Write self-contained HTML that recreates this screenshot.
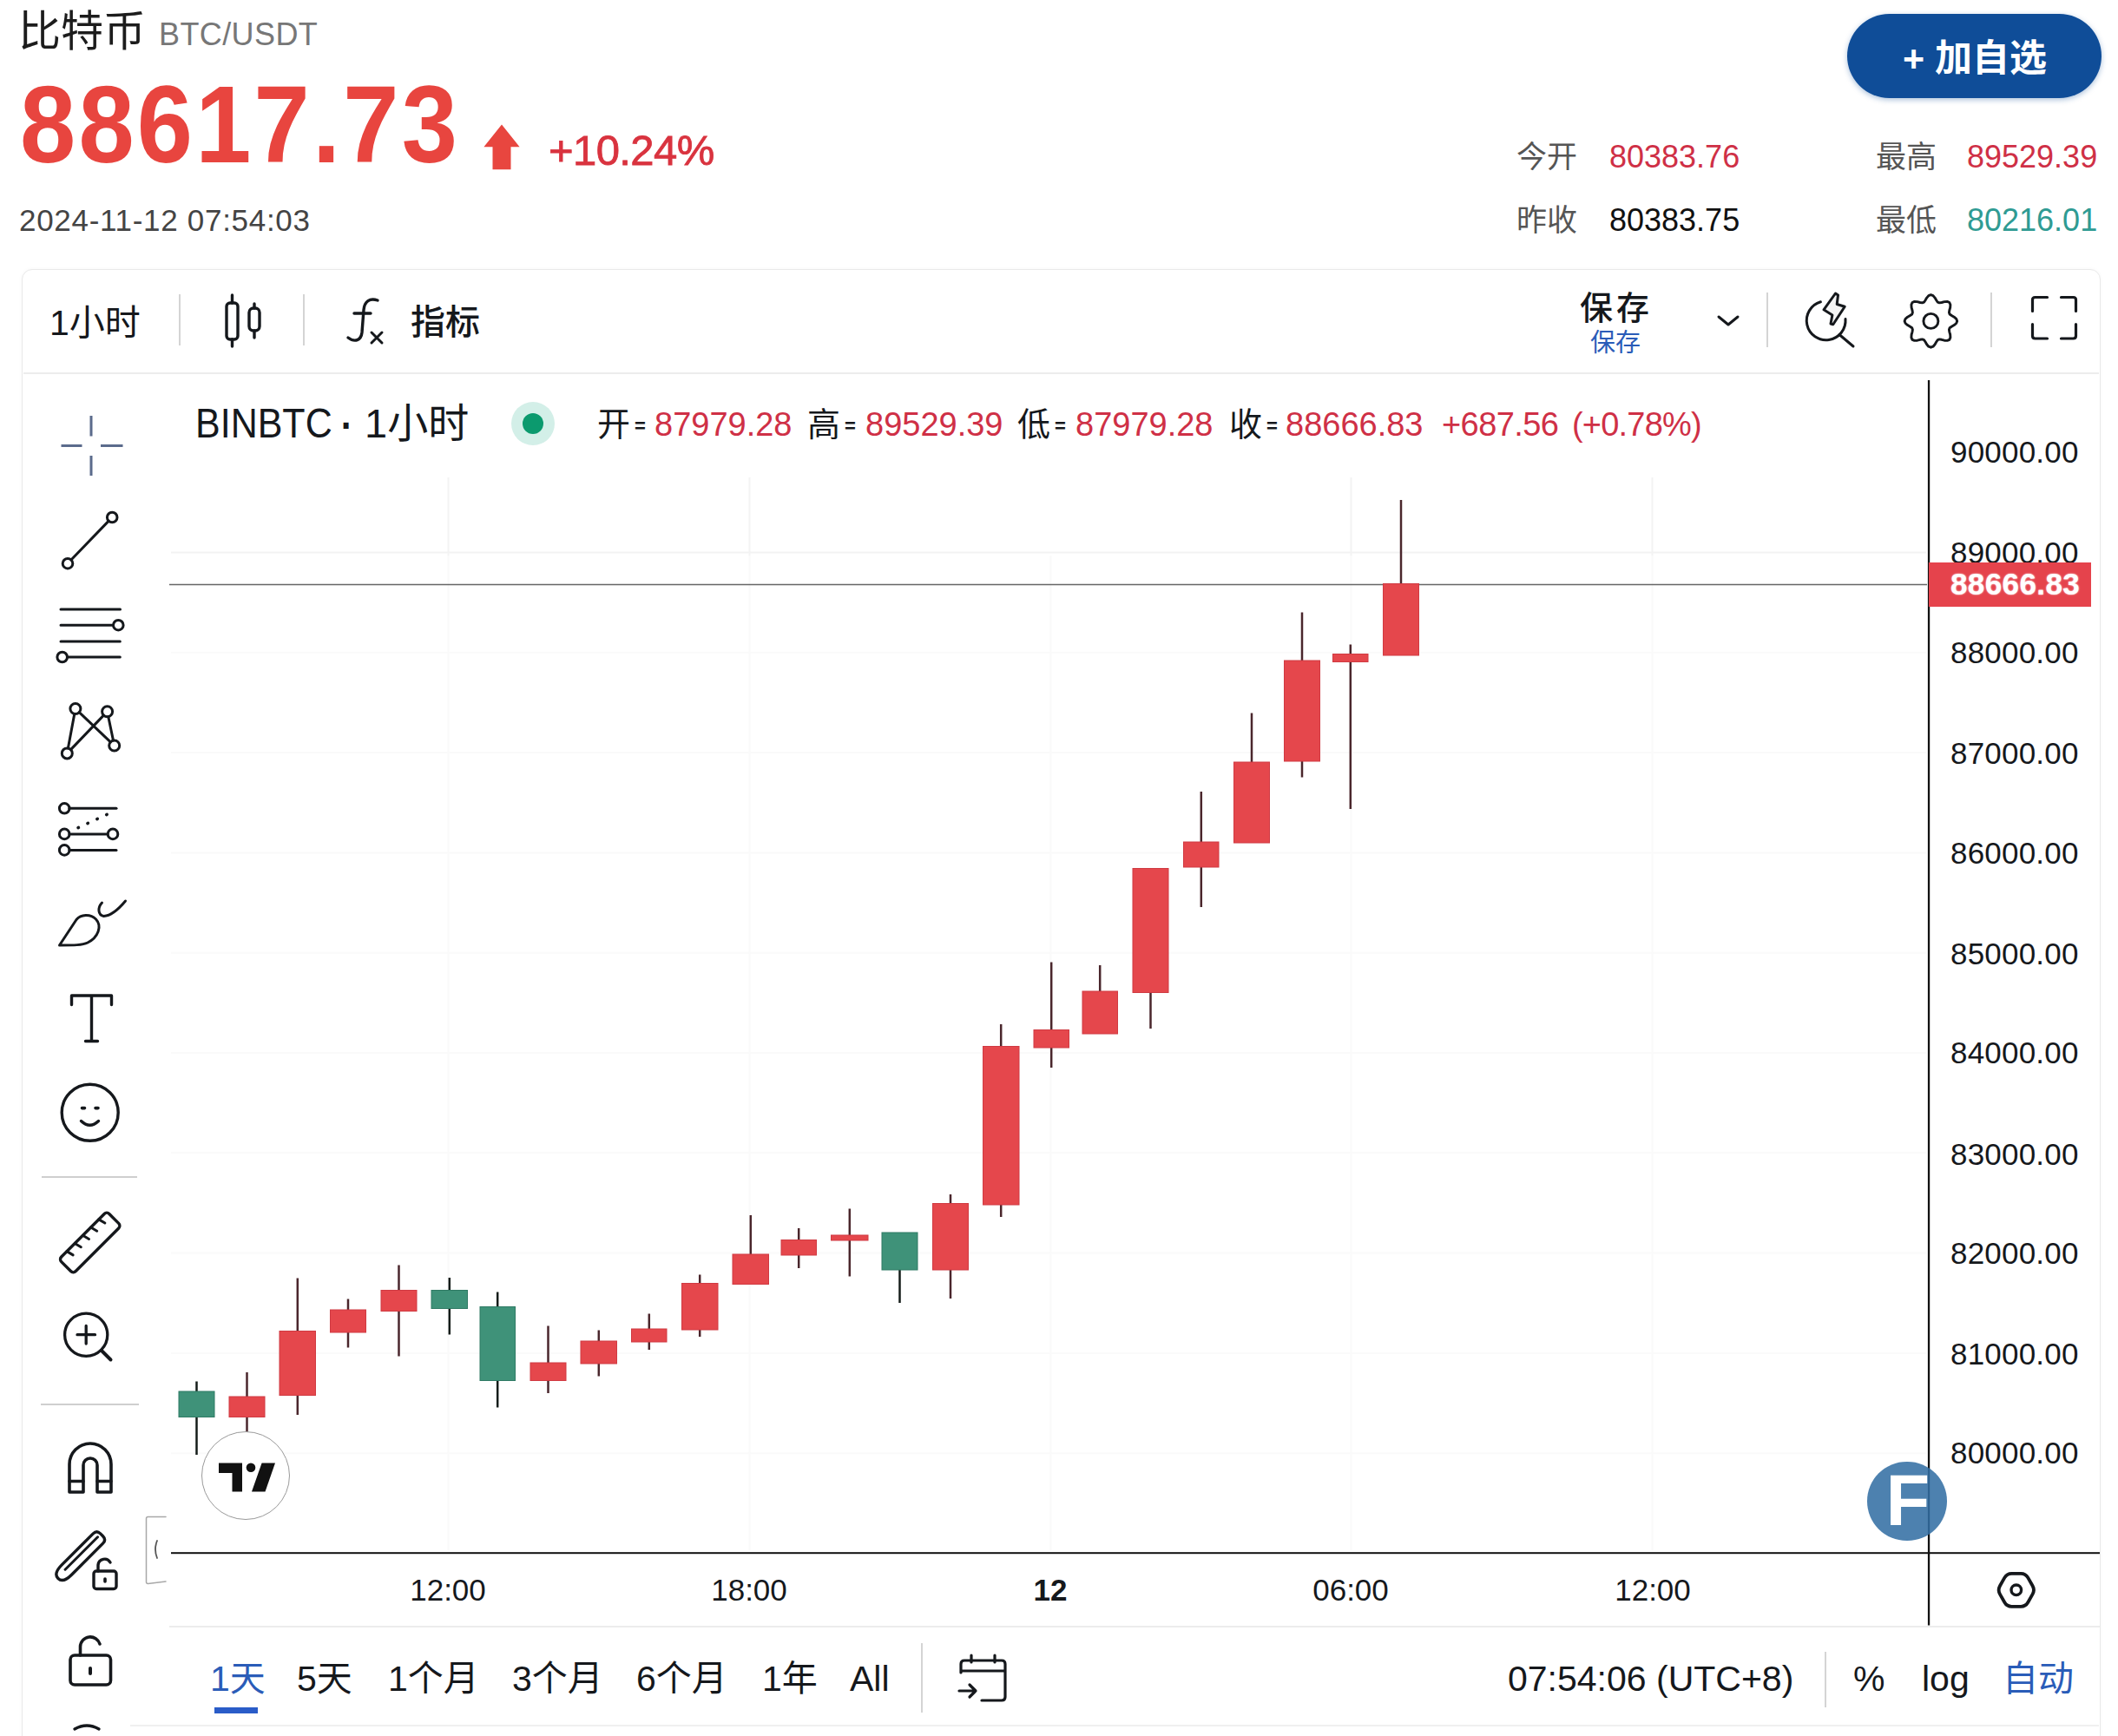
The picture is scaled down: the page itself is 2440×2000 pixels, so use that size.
<!DOCTYPE html>
<html lang="zh-CN"><head><meta charset="utf-8"><title>比特币 BTC/USDT</title>
<style>
*{margin:0;padding:0;box-sizing:border-box}
html,body{width:2440px;height:2000px;overflow:hidden;background:#fff}
body{position:relative;font-family:"Liberation Sans","Noto Sans CJK SC",sans-serif;color:#111}
.a{position:absolute;white-space:nowrap;line-height:1}
.red{color:#e8453f}.crim{color:#cf3046}.teal{color:#2f9b93}.gray{color:#6f6f6f}.blue{color:#2a5cb8}
#card{position:absolute;left:25px;top:310px;width:2395px;height:1720px;border:1.5px solid #e9e9e9;border-radius:12px;background:#fff;box-shadow:0 0 5px rgba(0,0,0,.03)}
.vd{position:absolute;width:2px;background:#d4d4d4}
.hd{position:absolute;height:2px;background:#ececec}
.pl{position:absolute;left:2247px;font-size:35px;line-height:1;color:#15181c;white-space:nowrap;letter-spacing:.2px}
.tl{position:absolute;top:1814px;font-size:35px;line-height:1;color:#15181c;white-space:nowrap;transform:translateX(-50%)}
.bb{position:absolute;top:1914px;font-size:41px;line-height:1;white-space:nowrap;color:#15181c}
.bb.blue{color:#2a5cb8}
.lg{position:absolute;top:470px;font-size:38px;line-height:1;white-space:nowrap}
.eq{font-size:22px;position:relative;top:-4px;left:5px;font-weight:700}
svg{position:absolute;left:0;top:0;overflow:visible}
</style></head><body>

<!-- header -->
<div class="a" style="left:21px;top:12px;font-size:49px;font-weight:400;color:#1c1c1c;letter-spacing:0px">比特币</div>
<div class="a gray" style="left:183px;top:22px;font-size:36px;letter-spacing:.4px;color:#777">BTC/USDT</div>
<div class="a red" style="left:22.7px;top:80.4px;font-size:119px;font-weight:700;letter-spacing:3.3px;transform:scale(.97,1.055);transform-origin:0 0">88617.73</div>
<div class="a red" style="left:632px;top:149px;font-size:49px;letter-spacing:-.6px;color:#d9333f;-webkit-text-stroke:.8px #d9333f">+10.24%</div>
<div class="a gray" style="left:22px;top:236px;font-size:35px;letter-spacing:.7px;color:#444">2024-11-12 07:54:03</div>

<div class="a" style="left:2128px;top:16px;width:293px;height:97px;border-radius:49px;background:#0f4d98;box-shadow:0 2px 6px rgba(15,77,152,.35)"></div>
<div class="a" style="left:2192px;top:46px;font-size:43px;font-weight:700;color:#fff;letter-spacing:0">+ 加自选</div>

<div class="a gray" style="left:1747px;top:163px;font-size:35px;color:#555">今开</div>
<div class="a crim" style="left:1854px;top:163px;font-size:36px">80383.76</div>
<div class="a gray" style="left:2161px;top:163px;font-size:35px;color:#555">最高</div>
<div class="a crim" style="left:2266px;top:163px;font-size:36px">89529.39</div>
<div class="a gray" style="left:1747px;top:236px;font-size:35px;color:#555">昨收</div>
<div class="a" style="left:1854px;top:236px;font-size:36px;color:#111">80383.75</div>
<div class="a gray" style="left:2161px;top:236px;font-size:35px;color:#555">最低</div>
<div class="a teal" style="left:2266px;top:236px;font-size:36px">80216.01</div>

<!-- card -->
<div id="card"></div>
<div class="hd" style="left:27px;top:429px;width:2391px"></div>

<!-- top toolbar -->
<div class="a" style="left:57px;top:352px;font-size:41px;color:#15181c">1小时</div>
<div class="vd" style="left:206px;top:339px;height:59px"></div>
<div class="vd" style="left:349px;top:339px;height:59px"></div>
<div class="a" style="left:473px;top:351px;font-size:40px;color:#15181c;font-weight:500">指标</div>
<div class="a" style="left:1820px;top:336px;font-size:38px;letter-spacing:4px;color:#15181c;font-weight:500">保存</div>
<div class="a blue" style="left:1832px;top:381px;font-size:29px">保存</div>
<div class="vd" style="left:2035px;top:337px;height:63px"></div>
<div class="vd" style="left:2293px;top:337px;height:63px"></div>

<!-- legend -->
<div class="lg" style="left:225px;top:463px;font-size:43px;color:#15181c;transform:scaleY(1.13);transform-origin:0 0">BINBTC <b style="font-size:42px;line-height:0;position:relative;top:3px;left:-2px">·</b></div>
<div class="lg" style="left:420px;top:464px;font-size:47px;color:#15181c">1小时</div>
<div class="a" style="left:589px;top:463px;width:50px;height:50px;border-radius:25px;background:#d3efe8"></div>
<div class="a" style="left:602px;top:476px;width:24px;height:24px;border-radius:12px;background:#0b9a6e"></div>
<div class="lg" style="left:688px;color:#15181c">开<span class="eq">=</span></div><div class="lg crim" style="left:754px">87979.28</div>
<div class="lg" style="left:930px;color:#15181c">高<span class="eq">=</span></div><div class="lg crim" style="left:997px">89529.39</div>
<div class="lg" style="left:1172px;color:#15181c">低<span class="eq">=</span></div><div class="lg crim" style="left:1239px">87979.28</div>
<div class="lg" style="left:1416px;color:#15181c">收<span class="eq">=</span></div><div class="lg crim" style="left:1481px">88666.83</div>
<div class="lg crim" style="left:1661px;letter-spacing:-.6px">+687.56</div>
<div class="lg crim" style="left:1811px;letter-spacing:-.8px">(+0.78%)</div>

<!-- chart -->
<svg width="2440" height="2000" viewBox="0 0 2440 2000">
<g stroke="#f3f3f3" stroke-width="2">
<line x1="516.5" y1="550" x2="516.5" y2="640"/><line x1="863.5" y1="550" x2="863.5" y2="640"/><line x1="1556.5" y1="550" x2="1556.5" y2="640"/><line x1="1903.5" y1="550" x2="1903.5" y2="640"/>
<line x1="197" y1="636.5" x2="2219" y2="636.5"/>
</g>
<g stroke="#fafafa" stroke-width="2"><line x1="197" y1="751.8" x2="2219" y2="751.8"/><line x1="197" y1="867.1" x2="2219" y2="867.1"/><line x1="197" y1="982.4" x2="2219" y2="982.4"/><line x1="197" y1="1097.7" x2="2219" y2="1097.7"/><line x1="197" y1="1213.0" x2="2219" y2="1213.0"/><line x1="197" y1="1328.3" x2="2219" y2="1328.3"/><line x1="197" y1="1443.6" x2="2219" y2="1443.6"/><line x1="197" y1="1558.9" x2="2219" y2="1558.9"/><line x1="197" y1="1674.2" x2="2219" y2="1674.2"/><line x1="516.5" y1="640" x2="516.5" y2="1786"/><line x1="863.5" y1="640" x2="863.5" y2="1786"/><line x1="1210.5" y1="640" x2="1210.5" y2="1786"/><line x1="1556.5" y1="640" x2="1556.5" y2="1786"/><line x1="1903.5" y1="640" x2="1903.5" y2="1786"/></g>
<line x1="195" y1="673.5" x2="2220" y2="673.5" stroke="#666" stroke-width="1.3"/>
<line x1="226.5" y1="1591.5" x2="226.5" y2="1676" stroke="#141c19" stroke-width="2.5"/>
<rect x="206" y="1603" width="41" height="29.5" fill="#3f9279" stroke="#2f7a64" stroke-width="1"/>
<line x1="284.5" y1="1581" x2="284.5" y2="1650" stroke="#4a262c" stroke-width="2.5"/>
<rect x="264" y="1609" width="41" height="23.5" fill="#e5474c" stroke="#d03a42" stroke-width="1"/>
<line x1="342.8" y1="1472.5" x2="342.8" y2="1630" stroke="#4a262c" stroke-width="2.5"/>
<rect x="322" y="1533.5" width="41.5" height="74.0" fill="#e5474c" stroke="#d03a42" stroke-width="1"/>
<line x1="401.0" y1="1496.5" x2="401.0" y2="1552.5" stroke="#4a262c" stroke-width="2.5"/>
<rect x="380.5" y="1509" width="41.0" height="26" fill="#e5474c" stroke="#d03a42" stroke-width="1"/>
<line x1="459.5" y1="1457.5" x2="459.5" y2="1562.5" stroke="#4a262c" stroke-width="2.5"/>
<rect x="439" y="1486.5" width="41" height="24.0" fill="#e5474c" stroke="#d03a42" stroke-width="1"/>
<line x1="517.8" y1="1472" x2="517.8" y2="1537.5" stroke="#141c19" stroke-width="2.5"/>
<rect x="497" y="1486.5" width="41.5" height="21.0" fill="#3f9279" stroke="#2f7a64" stroke-width="1"/>
<line x1="573.2" y1="1488.5" x2="573.2" y2="1621.5" stroke="#141c19" stroke-width="2.5"/>
<rect x="553" y="1505.5" width="40.5" height="85.0" fill="#3f9279" stroke="#2f7a64" stroke-width="1"/>
<line x1="631.5" y1="1527.5" x2="631.5" y2="1605" stroke="#4a262c" stroke-width="2.5"/>
<rect x="611" y="1570" width="41" height="20.5" fill="#e5474c" stroke="#d03a42" stroke-width="1"/>
<line x1="689.8" y1="1532.5" x2="689.8" y2="1585.5" stroke="#4a262c" stroke-width="2.5"/>
<rect x="669" y="1545" width="41.5" height="26" fill="#e5474c" stroke="#d03a42" stroke-width="1"/>
<line x1="747.8" y1="1513.5" x2="747.8" y2="1555" stroke="#4a262c" stroke-width="2.5"/>
<rect x="727.5" y="1531" width="40.5" height="15" fill="#e5474c" stroke="#d03a42" stroke-width="1"/>
<line x1="806.2" y1="1468.5" x2="806.2" y2="1540" stroke="#4a262c" stroke-width="2.5"/>
<rect x="785.5" y="1478.5" width="41.5" height="53.5" fill="#e5474c" stroke="#d03a42" stroke-width="1"/>
<line x1="864.8" y1="1400" x2="864.8" y2="1480" stroke="#4a262c" stroke-width="2.5"/>
<rect x="844" y="1445" width="41.5" height="34.5" fill="#e5474c" stroke="#d03a42" stroke-width="1"/>
<line x1="920.2" y1="1415" x2="920.2" y2="1461" stroke="#4a262c" stroke-width="2.5"/>
<rect x="900" y="1428.5" width="40.5" height="17.5" fill="#e5474c" stroke="#d03a42" stroke-width="1"/>
<line x1="978.8" y1="1392.5" x2="978.8" y2="1470.5" stroke="#4a262c" stroke-width="2.5"/>
<rect x="957.5" y="1423" width="42.5" height="6" fill="#e5474c" stroke="#d03a42" stroke-width="1"/>
<line x1="1036.5" y1="1420" x2="1036.5" y2="1501" stroke="#141c19" stroke-width="2.5"/>
<rect x="1016" y="1420" width="41" height="43" fill="#3f9279" stroke="#2f7a64" stroke-width="1"/>
<line x1="1095.0" y1="1376" x2="1095.0" y2="1496" stroke="#4a262c" stroke-width="2.5"/>
<rect x="1074.5" y="1386.5" width="41.0" height="76.5" fill="#e5474c" stroke="#d03a42" stroke-width="1"/>
<line x1="1153.2" y1="1180" x2="1153.2" y2="1402" stroke="#4a262c" stroke-width="2.5"/>
<rect x="1132.5" y="1205.5" width="41.5" height="182.5" fill="#e5474c" stroke="#d03a42" stroke-width="1"/>
<line x1="1211.2" y1="1108.5" x2="1211.2" y2="1230" stroke="#4a262c" stroke-width="2.5"/>
<rect x="1191" y="1186.5" width="40.5" height="20.5" fill="#e5474c" stroke="#d03a42" stroke-width="1"/>
<line x1="1267.2" y1="1112" x2="1267.2" y2="1191" stroke="#4a262c" stroke-width="2.5"/>
<rect x="1247" y="1142" width="40.5" height="49" fill="#e5474c" stroke="#d03a42" stroke-width="1"/>
<line x1="1325.5" y1="1000.5" x2="1325.5" y2="1185" stroke="#4a262c" stroke-width="2.5"/>
<rect x="1305" y="1000.5" width="41" height="143.0" fill="#e5474c" stroke="#d03a42" stroke-width="1"/>
<line x1="1383.8" y1="912" x2="1383.8" y2="1045" stroke="#4a262c" stroke-width="2.5"/>
<rect x="1363.5" y="970" width="40.5" height="29" fill="#e5474c" stroke="#d03a42" stroke-width="1"/>
<line x1="1442.0" y1="821.5" x2="1442.0" y2="971" stroke="#4a262c" stroke-width="2.5"/>
<rect x="1421.5" y="878" width="41.0" height="93" fill="#e5474c" stroke="#d03a42" stroke-width="1"/>
<line x1="1500.0" y1="705.5" x2="1500.0" y2="895.5" stroke="#4a262c" stroke-width="2.5"/>
<rect x="1479.5" y="761" width="41.0" height="116" fill="#e5474c" stroke="#d03a42" stroke-width="1"/>
<line x1="1555.8" y1="742.5" x2="1555.8" y2="932" stroke="#4a262c" stroke-width="2.5"/>
<rect x="1535.5" y="753.5" width="40.5" height="9.0" fill="#e5474c" stroke="#d03a42" stroke-width="1"/>
<line x1="1614.0" y1="576" x2="1614.0" y2="672.5" stroke="#4a262c" stroke-width="2.5"/>
<rect x="1593.5" y="672.5" width="41.0" height="82.5" fill="#e5474c" stroke="#d03a42" stroke-width="1"/>

<rect x="2220.9" y="438" width="2.3" height="1434.5" fill="#111"/>
<rect x="197" y="1788.2" width="2222" height="2" fill="#111"/>
<rect x="2222" y="648" width="187" height="51" fill="#e5434c"/>
</svg>

<!-- price labels -->
<div class="pl" style="top:503px">90000.00</div>
<div class="pl" style="top:619px">89000.00</div>
<div class="pl" style="top:734px">88000.00</div>
<div class="pl" style="top:850px">87000.00</div>
<div class="pl" style="top:965px">86000.00</div>
<div class="pl" style="top:1081px">85000.00</div>
<div class="pl" style="top:1195px">84000.00</div>
<div class="pl" style="top:1312px">83000.00</div>
<div class="pl" style="top:1426px">82000.00</div>
<div class="pl" style="top:1542px">81000.00</div>
<div class="pl" style="top:1656px">80000.00</div>
<svg width="2440" height="2000" viewBox="0 0 2440 2000"><rect x="2222" y="648" width="187" height="51" fill="#e5434c"/></svg>
<div class="pl" style="top:655px;color:#fff;font-weight:700;left:2247px;font-size:35px;letter-spacing:.4px;text-shadow:0 0 2px #fff">88666.83</div>

<!-- time labels -->
<div class="tl" style="left:516px">12:00</div>
<div class="tl" style="left:863px">18:00</div>
<div class="tl" style="left:1210px;font-weight:700">12</div>
<div class="tl" style="left:1556px">06:00</div>
<div class="tl" style="left:1904px">12:00</div>
<div class="hd" style="left:195px;top:1873px;width:2224px"></div>

<!-- bottom bar -->
<div class="bb blue" style="left:242px">1天</div>
<div class="a" style="left:247px;top:1967px;width:50px;height:7px;background:#2a5cc8"></div>
<div class="bb" style="left:342px">5天</div>
<div class="bb" style="left:447px">1个月</div>
<div class="bb" style="left:590px">3个月</div>
<div class="bb" style="left:733px">6个月</div>
<div class="bb" style="left:878px">1年</div>
<div class="bb" style="left:979px">All</div>
<div class="vd" style="left:1061px;top:1893px;height:80px"></div>
<div class="bb" style="left:1737px">07:54:06 (UTC+8)</div>
<div class="vd" style="left:2102px;top:1903px;height:64px"></div>
<div class="bb" style="left:2135px">%</div>
<div class="bb" style="left:2214px">log</div>
<div class="bb blue" style="left:2307px">自动</div>

<div class="a" style="left:150px;top:1987px;width:2268px;height:2px;background:#f0f0f0"></div>
<!-- F badge -->
<div class="a" style="left:2151px;top:1683.5px;width:91.5px;height:91.5px;border-radius:46px;background:rgba(50,110,163,.87)"></div>
<div class="a" style="left:2172.5px;top:1686.5px;font-size:83px;font-weight:700;color:#fff">F</div>

<!-- TV logo -->
<div class="a" style="left:232px;top:1649px;width:102px;height:102px;border-radius:51px;background:#fff;border:1.5px solid #9a9a9a"></div>

<svg width="2440" height="2000" viewBox="0 0 2440 2000" fill="none" stroke="#15181c" stroke-width="3" stroke-linecap="round" stroke-linejoin="round">
<g stroke-width="3.4"><rect x="261" y="349" width="13" height="42" rx="4"/><path d="M267.5 340v9M267.5 391v8"/><rect x="287" y="355" width="12" height="26" rx="5"/><path d="M293 350v5M293 381v8"/></g>
<path d="M435 346c-9-3-15 1-16 11l-2 26c-1 9-8 12-16 6" stroke-width="3.4"/><path d="M408 361h19" stroke-width="3.4"/><path d="M428 383l12 12M440 383l-12 12" stroke-width="3"/>
<path d="M1980 365l11 9l11-9" stroke-width="3"/>
<path d="M2097.4 347.8A22.4 22.4 0 1 0 2126 367.5"/><path d="M2119 385.5L2135 399"/>
<path d="M2114.5 338L2117.5 340L2116.2 350.5L2125.2 353.2L2111.8 373.8L2109 373L2110.9 363L2101 356.8Z" fill="#f4f4f4" stroke-width="3"/>
<polygon points="2254.7,369.9 2253.7,372.5 2251.2,374.6 2248.3,376.3 2246.1,377.8 2245.4,379.7 2245.8,382.3 2246.7,385.5 2246.9,388.8 2245.8,391.3 2243.3,392.4 2240.0,392.2 2236.8,391.3 2234.2,390.9 2232.3,391.6 2230.8,393.8 2229.1,396.7 2227.0,399.2 2224.4,400.2 2221.8,399.2 2219.7,396.7 2218.0,393.8 2216.5,391.6 2214.6,390.9 2212.0,391.3 2208.8,392.2 2205.5,392.4 2203.0,391.3 2201.9,388.8 2202.1,385.5 2203.0,382.3 2203.4,379.7 2202.7,377.8 2200.5,376.3 2197.6,374.6 2195.1,372.5 2194.1,369.9 2195.1,367.3 2197.6,365.2 2200.5,363.5 2202.7,362.0 2203.4,360.1 2203.0,357.5 2202.1,354.3 2201.9,351.0 2203.0,348.5 2205.5,347.4 2208.8,347.6 2212.0,348.5 2214.6,348.9 2216.5,348.2 2218.0,346.0 2219.7,343.1 2221.8,340.6 2224.4,339.6 2227.0,340.6 2229.1,343.1 2230.8,346.0 2232.3,348.2 2234.2,348.9 2236.8,348.5 2240.0,347.6 2243.3,347.4 2245.8,348.5 2246.9,351.0 2246.7,354.3 2245.8,357.5 2245.4,360.1 2246.1,362.0 2248.3,363.5 2251.2,365.2 2253.7,367.3 2254.7,369.9" stroke-width="2.9"/>
<circle cx="2224.4" cy="369.9" r="8.5" stroke-width="2.9"/>
<g stroke-width="3.2"><path d="M2341.5 358.5V345.5q0-3 3-3H2358.5"/><path d="M2374.5 342.5H2388.5q3 0 3 3V358.5"/><path d="M2341.5 373.5V387q0 3 3 3H2358.5"/><path d="M2391.5 373.5V387q0 3-3 3H2374.5"/></g>
<g stroke="#5b6b8c" stroke-width="3" stroke-linecap="butt"><path d="M105 479v23.5M105 525v23M70.5 513.5h24M116 513.5h25.5"/></g>
<circle cx="129.2" cy="596" r="5.8"/><circle cx="78" cy="649.2" r="5.8"/><path d="M82.2 644.8L125 600.4"/>
<path d="M70 702h68.5M70 720.2h60M70 739h68.3M78 757h60.3"/><circle cx="136.3" cy="720.2" r="5.8"/><circle cx="71.7" cy="757" r="5.8"/>
<path d="M78.4 862.0L85.8 822.4M91.3 820.6L127.3 854.9M130.5 853.1L124.8 825.7M119.4 824.1L81.5 863.6"/>
<circle cx="86.9" cy="816.5" r="6"/>
<circle cx="123.6" cy="819.8" r="6"/>
<circle cx="131.7" cy="859" r="6"/>
<circle cx="77.3" cy="867.9" r="6"/>
<circle cx="74.2" cy="931.3" r="5.8"/><path d="M80 931.3H134"/><circle cx="74.2" cy="960.9" r="5.8"/><path d="M80 960.9H124"/><circle cx="130" cy="960.9" r="5.8"/><circle cx="74.2" cy="979.4" r="5.8"/><path d="M80 979.4H134"/>
<path d="M90 953.6L126 937" stroke-dasharray="0.5 11.5" stroke-width="3.6"/>
<path d="M68.5 1089L88 1059.5C93 1053.5 104 1052.5 110.5 1059C118 1067 113 1080 101 1086C95 1089 85 1089 68.5 1089Z"/><path d="M117.5 1040C112 1046 113 1054 119.5 1055.5C128 1055 137 1047 144.5 1038"/>
<path d="M82.5 1157.5V1147H128.5V1157.5M105.5 1147V1199M98.5 1199.5H112.5" stroke-width="3.4"/>
<circle cx="103.7" cy="1281.8" r="32.5" stroke-width="3.4"/><path d="M94.5 1276.6h3M110 1276.6h3" stroke-width="3.6"/><path d="M93.5 1291.5Q103.5 1301 113.5 1291.5" stroke-width="3.4"/>
<path d="M48 1356H158" stroke="#cfcfcf" stroke-width="2" stroke-linecap="butt"/>
<g transform="translate(103.7 1431.5) rotate(-45)"><rect x="-39" y="-11.7" width="78" height="23.4" rx="4" stroke-width="3.4"/><path d="M-26 -11.7l2 8M-13 -11.7l2 8M0 -11.7l2 8M13 -11.7l2 8M26 -11.7l2 8" stroke-width="3"/></g>
<circle cx="99.2" cy="1537.7" r="24.6" stroke-width="3.3"/><path d="M99.2 1527.5v20.5M89 1537.7h20.5" stroke-width="3.3"/><path d="M117.5 1556.5L127.5 1566.5" stroke-width="4"/>
<path d="M47 1618H160" stroke="#cfcfcf" stroke-width="2" stroke-linecap="butt"/>
<path d="M80 1719V1687A24 24 0 0 1 128 1687V1719H112V1688A8 8 0 0 0 96 1688V1719Z" stroke-width="3.6"/><path d="M80 1706.5H96M112 1706.5H128" stroke-width="3.4"/>
<g transform="translate(93.8 1791.6) rotate(-45)"><path d="M-24 -8H27Q33 -8 33 -2V2Q33 8 27 8H-24Q-38 8 -38 0Q-38 -8 -24 -8Z" stroke-width="3.4"/><path d="M-25 -1.5H28" stroke-width="3"/></g>
<rect x="108" y="1810" width="26" height="20.5" rx="3" stroke-width="3.4" fill="#fff"/><path d="M113 1810V1803A7.5 7.5 0 0 1 127 1800" stroke-width="3.4"/><path d="M121 1819v3" stroke-width="3.6"/>
<rect x="81" y="1907" width="46.5" height="34" rx="5" stroke-width="3.6"/><path d="M92.5 1907V1897A11.5 11.5 0 0 1 115 1894" stroke-width="3.6"/><path d="M104 1922v6" stroke-width="4"/>
<path d="M86 1992Q100 1984 114 1992" stroke-width="3.4"/>
<path d="M191 1747.5H170.5Q168.5 1747.5 168.5 1749.5V1822.5Q168.5 1824.5 170.5 1824.5L191 1822" stroke="#a8a8a8" stroke-width="1.5"/><path d="M181 1775Q177 1785 181 1795" stroke="#555" stroke-width="1.8"/>
<g stroke-width="3.2" transform="translate(0 4)"><path d="M1107 1923V1913Q1107 1909 1111 1909H1154Q1158 1909 1158 1913V1951Q1158 1955 1154 1955H1131"/><path d="M1108 1921H1157"/><path d="M1119 1903v8M1146 1903v8"/><path d="M1105 1944H1124M1117 1937l7 7l-7 7"/></g>
<path d="M2304.0 1836.6Q2301.3 1831.8 2304.0 1827.0L2309.3 1817.6Q2312.0 1812.8 2317.5 1812.8L2328.1 1812.8Q2333.6 1812.8 2336.3 1817.6L2341.6 1827.0Q2344.3 1831.8 2341.6 1836.6L2336.3 1846.0Q2333.6 1850.8 2328.1 1850.8L2317.5 1850.8Q2312.0 1850.8 2309.3 1846.0Z" stroke-width="3.8"/><circle cx="2322.8" cy="1831.8" r="5.8" stroke-width="3.4"/>
</svg>
<svg width="2440" height="2000" viewBox="0 0 2440 2000">
<path d="M578 143.4L598.6 169.2H588.5V195.2H567.5V169.2H557.4Z" fill="#e8463f"/>
<g fill="#111"><path d="M252 1685.5H279V1718.5H267.5V1697H252Z"/><circle cx="289" cy="1690.8" r="5.3"/><path d="M301.6 1685.5H317L305.5 1718.5H290Z"/></g>
</svg>
</body></html>
